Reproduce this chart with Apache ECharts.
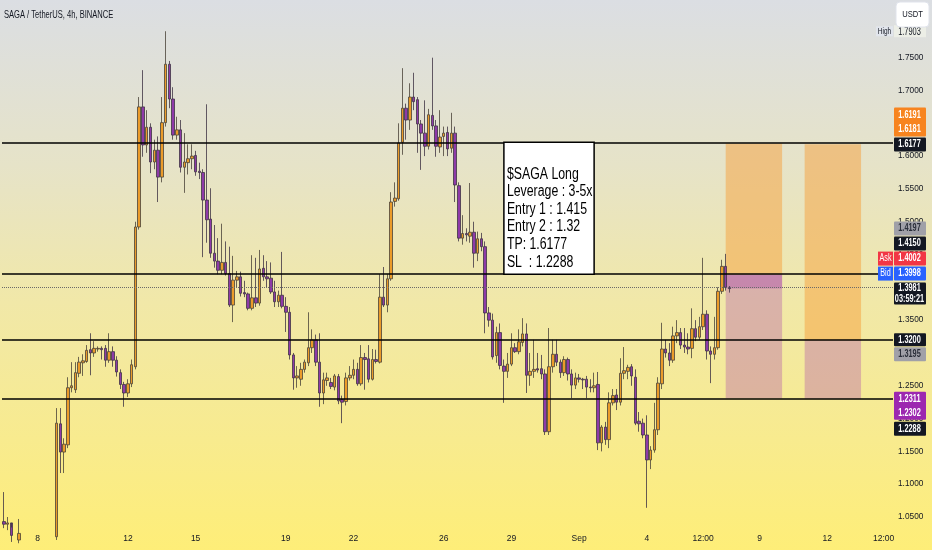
<!DOCTYPE html>
<html>
<head>
<meta charset="utf-8">
<script src="https://cdn.jsdelivr.net/npm/echarts@6/dist/echarts.min.js"></script>
<style>
html, body { margin: 0; padding: 0; }
#chart { width: 932px; height: 550px; }
</style>
</head>
<body>
<div id="chart"></div>
<script>
const chart = echarts.init(document.getElementById('chart'))

const FONT = '"Liberation Sans", Arial, sans-serif'

// 4h slots from Aug 6 12:00
const startTime = Date.UTC(2024, 7, 6, 12)
const slotCount = 237

// [open, close, low, high]
const candles = [
    [1.043, 1.039, 1.033, 1.088], [1.039, 1.041, 1.030, 1.050], [1.041, 1.022, 1.012, 1.034], [1.022, 1.015, 1.005, 1.028],
    [1.015, 1.025, 1.010, 1.047], [1.025, 1.012, 1.000, 1.030], [1.012, 1.004, 0.990, 1.020], [1.004, 0.995, 0.985, 1.015],
    [0.995, 1.006, 0.988, 1.018], [1.006, 0.998, 0.990, 1.014], [0.998, 1.008, 0.992, 1.020], [1.008, 1.002, 0.995, 1.016],
    [1.002, 1.012, 0.998, 1.025], [1.012, 1.020, 1.005, 1.030], [1.020, 1.193, 1.015, 1.216], [1.192, 1.149, 1.117, 1.216],
    [1.149, 1.161, 1.117, 1.170], [1.160, 1.247, 1.155, 1.263], [1.247, 1.250, 1.240, 1.286], [1.244, 1.270, 1.239, 1.286],
    [1.269, 1.286, 1.263, 1.294], [1.285, 1.288, 1.265, 1.298], [1.287, 1.304, 1.285, 1.312], [1.305, 1.300, 1.266, 1.330],
    [1.300, 1.307, 1.294, 1.318], [1.306, 1.307, 1.302, 1.310], [1.307, 1.305, 1.290, 1.310], [1.307, 1.289, 1.279, 1.312],
    [1.289, 1.302, 1.285, 1.330], [1.302, 1.289, 1.279, 1.310], [1.289, 1.271, 1.264, 1.295], [1.270, 1.252, 1.245, 1.275],
    [1.252, 1.239, 1.218, 1.256], [1.239, 1.253, 1.233, 1.260], [1.253, 1.282, 1.248, 1.290], [1.279, 1.492, 1.275, 1.500],
    [1.492, 1.675, 1.488, 1.690], [1.675, 1.617, 1.599, 1.731], [1.617, 1.644, 1.605, 1.670], [1.644, 1.591, 1.574, 1.650],
    [1.591, 1.609, 1.580, 1.625], [1.609, 1.568, 1.530, 1.630], [1.568, 1.651, 1.560, 1.690], [1.651, 1.740, 1.645, 1.7903],
    [1.740, 1.687, 1.673, 1.745], [1.687, 1.632, 1.625, 1.705], [1.632, 1.640, 1.625, 1.660], [1.640, 1.583, 1.575, 1.655],
    [1.583, 1.591, 1.544, 1.635], [1.590, 1.596, 1.572, 1.618], [1.596, 1.600, 1.580, 1.618], [1.601, 1.576, 1.570, 1.608],
    [1.577, 1.575, 1.565, 1.590], [1.575, 1.533, 1.446, 1.580], [1.533, 1.503, 1.468, 1.679], [1.504, 1.452, 1.445, 1.551],
    [1.452, 1.440, 1.430, 1.495], [1.440, 1.426, 1.420, 1.475], [1.426, 1.438, 1.420, 1.497], [1.438, 1.421, 1.418, 1.470],
    [1.421, 1.373, 1.370, 1.462], [1.373, 1.411, 1.347, 1.448], [1.411, 1.416, 1.400, 1.425], [1.416, 1.391, 1.386, 1.424],
    [1.392, 1.390, 1.385, 1.410], [1.390, 1.368, 1.365, 1.392], [1.368, 1.384, 1.365, 1.449], [1.384, 1.376, 1.370, 1.445],
    [1.376, 1.428, 1.372, 1.457], [1.429, 1.416, 1.410, 1.449], [1.416, 1.413, 1.400, 1.440], [1.414, 1.393, 1.390, 1.438],
    [1.393, 1.378, 1.370, 1.410], [1.378, 1.388, 1.370, 1.395], [1.388, 1.371, 1.368, 1.454], [1.371, 1.362, 1.332, 1.385],
    [1.362, 1.297, 1.290, 1.370], [1.297, 1.262, 1.244, 1.300], [1.262, 1.265, 1.247, 1.280], [1.260, 1.275, 1.250, 1.285],
    [1.275, 1.286, 1.270, 1.290], [1.285, 1.308, 1.280, 1.362], [1.308, 1.320, 1.300, 1.336], [1.320, 1.286, 1.280, 1.328],
    [1.286, 1.239, 1.218, 1.330], [1.239, 1.259, 1.222, 1.270], [1.258, 1.262, 1.250, 1.270], [1.255, 1.249, 1.245, 1.262],
    [1.248, 1.265, 1.243, 1.268], [1.264, 1.227, 1.222, 1.268], [1.229, 1.225, 1.193, 1.235], [1.226, 1.262, 1.220, 1.270],
    [1.262, 1.266, 1.258, 1.280], [1.266, 1.275, 1.260, 1.290], [1.275, 1.253, 1.250, 1.285], [1.253, 1.293, 1.250, 1.312],
    [1.293, 1.290, 1.244, 1.300], [1.291, 1.260, 1.255, 1.312], [1.260, 1.290, 1.258, 1.306], [1.290, 1.287, 1.284, 1.305],
    [1.286, 1.385, 1.284, 1.420], [1.385, 1.373, 1.370, 1.431], [1.373, 1.413, 1.362, 1.420], [1.413, 1.530, 1.410, 1.545],
    [1.531, 1.536, 1.523, 1.560], [1.535, 1.620, 1.532, 1.650], [1.621, 1.673, 1.602, 1.734], [1.673, 1.655, 1.625, 1.680],
    [1.655, 1.690, 1.640, 1.711], [1.690, 1.683, 1.670, 1.727], [1.686, 1.649, 1.605, 1.690], [1.649, 1.635, 1.579, 1.655],
    [1.635, 1.615, 1.600, 1.685], [1.615, 1.663, 1.610, 1.672], [1.662, 1.646, 1.640, 1.750], [1.646, 1.615, 1.599, 1.655],
    [1.614, 1.629, 1.605, 1.670], [1.630, 1.635, 1.600, 1.645], [1.636, 1.611, 1.600, 1.645], [1.612, 1.635, 1.605, 1.666],
    [1.635, 1.556, 1.530, 1.645], [1.555, 1.475, 1.470, 1.560], [1.475, 1.482, 1.465, 1.510], [1.482, 1.480, 1.470, 1.490],
    [1.478, 1.484, 1.468, 1.559], [1.484, 1.452, 1.430, 1.500], [1.452, 1.474, 1.440, 1.485], [1.474, 1.462, 1.455, 1.483],
    [1.462, 1.361, 1.330, 1.470], [1.361, 1.350, 1.340, 1.370], [1.350, 1.294, 1.290, 1.360], [1.296, 1.331, 1.285, 1.340],
    [1.331, 1.281, 1.275, 1.345], [1.280, 1.272, 1.224, 1.290], [1.272, 1.283, 1.262, 1.300], [1.283, 1.308, 1.280, 1.330],
    [1.308, 1.302, 1.300, 1.315], [1.302, 1.317, 1.298, 1.336], [1.316, 1.329, 1.310, 1.353], [1.329, 1.266, 1.239, 1.345],
    [1.266, 1.272, 1.250, 1.300], [1.272, 1.275, 1.262, 1.320], [1.276, 1.274, 1.270, 1.300], [1.276, 1.268, 1.260, 1.297],
    [1.268, 1.180, 1.175, 1.275], [1.180, 1.279, 1.175, 1.338], [1.279, 1.298, 1.270, 1.320], [1.298, 1.286, 1.280, 1.320],
    [1.286, 1.270, 1.262, 1.290], [1.270, 1.290, 1.265, 1.295], [1.290, 1.268, 1.258, 1.293], [1.268, 1.251, 1.231, 1.275],
    [1.251, 1.262, 1.245, 1.270], [1.262, 1.260, 1.255, 1.268], [1.260, 1.259, 1.245, 1.262], [1.260, 1.248, 1.231, 1.265],
    [1.248, 1.247, 1.240, 1.260], [1.247, 1.250, 1.240, 1.270], [1.252, 1.163, 1.152, 1.271], [1.163, 1.187, 1.150, 1.190],
    [1.187, 1.168, 1.160, 1.195], [1.168, 1.224, 1.155, 1.240], [1.224, 1.235, 1.220, 1.245], [1.236, 1.225, 1.213, 1.245],
    [1.225, 1.269, 1.220, 1.292], [1.269, 1.273, 1.260, 1.309], [1.272, 1.278, 1.260, 1.282], [1.279, 1.265, 1.250, 1.283],
    [1.263, 1.193, 1.190, 1.275], [1.196, 1.192, 1.180, 1.210], [1.193, 1.175, 1.170, 1.200], [1.175, 1.137, 1.064, 1.205],
    [1.137, 1.152, 1.123, 1.158], [1.152, 1.183, 1.148, 1.224], [1.183, 1.254, 1.175, 1.263], [1.253, 1.306, 1.245, 1.346],
    [1.306, 1.300, 1.293, 1.320], [1.300, 1.289, 1.280, 1.315], [1.289, 1.326, 1.285, 1.340], [1.326, 1.331, 1.315, 1.350],
    [1.331, 1.312, 1.306, 1.338], [1.312, 1.309, 1.300, 1.338], [1.309, 1.306, 1.298, 1.330], [1.307, 1.337, 1.292, 1.368],
    [1.337, 1.324, 1.318, 1.350], [1.324, 1.340, 1.320, 1.355], [1.340, 1.359, 1.335, 1.445], [1.359, 1.303, 1.290, 1.365],
    [1.303, 1.298, 1.254, 1.310], [1.298, 1.308, 1.290, 1.355], [1.308, 1.394, 1.305, 1.400], [1.394, 1.432, 1.390, 1.442],
    [1.432, 1.400, 1.395, 1.451], [1.400, 1.3981, 1.392, 1.402]
]

const xTicks = [
    ['8-8 00:00', '8'], ['8-12 00:00', '12'], ['8-15 00:00', '15'], ['8-19 00:00', '19'], ['8-22 00:00', '22'],
    ['8-26 00:00', '26'], ['8-29 00:00', '29'], ['9-1 00:00', 'Sep'], ['9-4 00:00', '4'], ['9-6 12:00', '12:00'],
    ['9-9 00:00', '9'], ['9-12 00:00', '12'], ['9-14 12:00', '12:00']
]
const yTicks = [1.05, 1.10, 1.15, 1.20, 1.25, 1.30, 1.35, 1.40, 1.45, 1.50, 1.55, 1.60, 1.65, 1.70, 1.75, 1.80]

// drawn levels
const levels = [1.6177, 1.415, 1.32, 1.2288]
const lastPrice = 1.3981
const askPrice = 1.4002
const bidPrice = 1.3998
const highPrice = 1.7903
const countdown = '03:59:21'
// long position tools: entry, target, stop, first/last slot
const positions = [
    { entry: 1.4197, target: 1.6191, stop: 1.2311, from: '9-7 12:00', to: '9-10 00:00' },
    { entry: 1.3195, target: 1.6181, stop: 1.2302, from: '9-11 00:00', to: '9-13 12:00' }
]
const noteLines = ['$SAGA Long', 'Leverage : 3-5x', 'Entry 1 : 1.415', 'Entry 2 : 1.32', 'TP: 1.6177', 'SL  : 1.2288']
const notePlace = { from: '8-28 16:00', to: '9-1 16:00', top: 1.621, bottom: 1.42 }

const categories = []
for (let i = 0; i < slotCount; i++) {
    const d = new Date(startTime + i * 4 * 3600e3)
    categories.push((d.getUTCMonth() + 1) + '-' + d.getUTCDate() + ' ' + String(d.getUTCHours()).padStart(2, '0') + ':00')
}
const tickMap = new Map(xTicks)

const areas = []
positions.forEach(function (p) {
    areas.push([{ xAxis: p.from, yAxis: p.entry, itemStyle: { color: 'rgba(245,160,60,0.5)' } }, { xAxis: p.to, yAxis: p.target }])
    areas.push([{ xAxis: p.from, yAxis: p.stop, itemStyle: { color: 'rgba(180,90,170,0.38)' } }, { xAxis: p.to, yAxis: p.entry }])
})
// open loss of the first entry
areas.push([{ xAxis: positions[0].from, yAxis: lastPrice, itemStyle: { color: 'rgba(156,39,176,0.3)' } }, { xAxis: positions[0].to, yAxis: positions[0].entry }])

const lineData = levels.map(v => ({ yAxis: v }))
lineData.push({ yAxis: lastPrice, lineStyle: { type: 'dotted', color: '#6a6a6a', width: 1 } })

chart.setOption({
    animation: false,
    backgroundColor: {
        type: 'linear', x: 0, y: 0, x2: 0, y2: 1,
        colorStops: [
            { offset: 0, color: '#dbdee3' },
            { offset: 0.3, color: '#e6e3c8' },
            { offset: 0.55, color: '#f1e8a8' },
            { offset: 0.8, color: '#f8eb8e' },
            { offset: 1, color: '#feee78' }
        ]
    },
    grid: { left: 2, right: 39, top: 0, bottom: 24 },
    xAxis: {
        type: 'category',
        data: categories,
        boundaryGap: true,
        axisLine: { show: false },
        axisTick: { show: false },
        splitLine: { show: false },
        axisLabel: {
            interval: (i, v) => tickMap.has(v),
            formatter: v => tickMap.get(v) || '',
            color: '#131722',
            fontSize: 8.5,
            fontFamily: FONT,
            margin: 8
        }
    },
    yAxis: {
        type: 'value',
        position: 'right',
        min: 1.0363,
        max: 1.8379,
        splitLine: { show: false },
        axisLine: { show: false },
        axisTick: { show: false },
        axisLabel: {
            customValues: yTicks,
            formatter: v => v.toFixed(4),
            color: '#131722',
            fontSize: 8.3,
            fontFamily: FONT,
            margin: 5
        }
    },
    series: [{
        type: 'candlestick',
        data: candles,
        barWidth: 3,
        clip: true,
        itemStyle: {
            color: '#eb9b2a',
            color0: '#8e3aa8',
            borderColor: '#4a4238',
            borderColor0: '#3f3444',
            borderWidth: 0.8
        },
        markArea: { silent: true, data: areas },
        markLine: {
            silent: true,
            symbol: 'none',
            label: { show: false },
            lineStyle: { color: '#000', width: 1.7, type: 'solid' },
            data: lineData
        }
    }]
})

// overlays placed through the chart's own scales
const yPix = p => chart.convertToPixel({ yAxisIndex: 0 }, p)
const xPix = c => chart.convertToPixel({ xAxisIndex: 0 }, c)
const g = []

function label(x, y, text, fill, font, align, sx) {
    g.push({ type: 'text', z: 101, x: x, y: y, scaleX: sx,
        style: { text: text, fill: fill, font: font + ' ' + FONT, align: align, verticalAlign: 'middle' } })
}
function tag(top, texts, bg, fg, h) {
    g.push({ type: 'rect', z: 100, shape: { x: 894, y: top, width: 32, height: h, r: 1 }, style: { fill: bg } })
    texts.forEach(function (t, k) {
        label(909.5, top + h / texts.length * (k + 0.5), t, fg, 'bold 10.5px', 'center', 0.7)
    })
}
function side(top, text, bg, fg, w) {
    g.push({ type: 'rect', z: 100, shape: { x: 893 - w, y: top, width: w, height: 14 }, style: { fill: bg } })
    label(893 - w / 2, top + 7, text, fg, '10px', 'center', 0.72)
}

// info note
const nx0 = xPix(notePlace.from), nx1 = xPix(notePlace.to)
const ny0 = yPix(notePlace.top), ny1 = yPix(notePlace.bottom)
g.push({ type: 'rect', z: 90, shape: { x: nx0, y: ny0, width: nx1 - nx0, height: ny1 - ny0 },
    style: { fill: '#fff', stroke: '#000', lineWidth: 1.5 } })
g.push({ type: 'text', z: 91, x: nx0 + 3, y: ny0 + 23, scaleX: 0.77,
    style: { text: noteLines.join('\n'), fill: '#000', font: '16px ' + FONT, lineHeight: 17.6, verticalAlign: 'top' } })

// title
label(4, 15, 'SAGA / TetherUS, 4h, BINANCE', '#131722', '10.5px', 'left', 0.72)

// high marker
const hy = yPix(highPrice)
g.push({ type: 'rect', z: 99, shape: { x: 876, y: hy - 5, width: 17, height: 10 }, style: { fill: '#e1e5ec' } })
label(884.5, hy, 'High', '#131722', '8.5px', 'center', 0.76)
g.push({ type: 'rect', z: 99, shape: { x: 894, y: hy - 6, width: 32, height: 12 }, style: { fill: '#eceee6' } })
label(909.5, hy + 1, highPrice.toFixed(4), '#131722', '10px', 'center', 0.74)
// currency box
g.push({ type: 'rect', z: 110, shape: { x: 896, y: 2, width: 33, height: 25, r: 4 }, style: { fill: '#fff', stroke: '#e0e3eb', lineWidth: 1 } })
g.push({ type: 'text', z: 111, x: 912.5, y: 14.5, scaleX: 0.8,
    style: { text: 'USDT', fill: '#131722', font: '9.5px ' + FONT, align: 'center', verticalAlign: 'middle' } })

// target stack
const tpY = yPix(levels[0])
tag(tpY - 7, [levels[0].toFixed(4)], '#131722', '#fff', 14)
tag(tpY - 37, positions.map(p => p.target.toFixed(4)), '#f7841f', '#fff', 29)

// last price stack
const lpTop = yPix(lastPrice) - 6
tag(lpTop, [lastPrice.toFixed(4), countdown], '#131722', '#fff', 22)
tag(lpTop - 16, [bidPrice.toFixed(4)], '#2962ff', '#fff', 14)
side(lpTop - 16, 'Bid', '#2962ff', '#fff', 15)
tag(lpTop - 31, [askPrice.toFixed(4)], '#f23645', '#fff', 14)
side(lpTop - 31, 'Ask', '#f23645', '#fff', 15)
tag(lpTop - 46, [levels[1].toFixed(4)], '#131722', '#fff', 14)
tag(lpTop - 61, [positions[0].entry.toFixed(4)], '#a0a0a8', '#2a2e39', 14)

// second entry stack
const e2Y = yPix(levels[2])
tag(e2Y - 6.5, [levels[2].toFixed(4)], '#131722', '#fff', 13)
tag(e2Y + 7.5, [positions[1].entry.toFixed(4)], '#a0a0a8', '#2a2e39', 14)

// stop stack
const slTop = yPix(positions[0].stop) - 6.5
tag(slTop, positions.map(p => p.stop.toFixed(4)), '#9c27b0', '#fff', 28)
tag(slTop + 30, [levels[3].toFixed(4)], '#131722', '#fff', 14)

chart.setOption({ graphic: g })
</script>
</body>
</html>
